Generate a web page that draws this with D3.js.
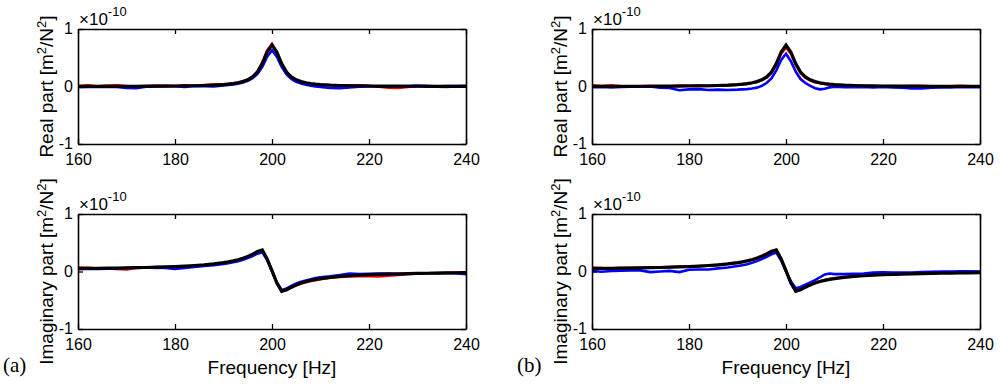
<!DOCTYPE html>
<html>
<head>
<meta charset="utf-8">
<script src="https://cdn.jsdelivr.net/npm/d3@7"></script>
<style>
  body { margin: 0; background: #fff; }
  text { font-family: "Liberation Sans", Arial, sans-serif; }
</style>
</head>
<body>
<div id="container"></div>
<script>
// frequency grid [Hz]
const freq = [160,162,164,166,168,170,172,174,176,178,180,182,184,186,188,
  190,191,192,193,194,195,196,197,198,199,200,201,202,203,204,205,206,207,208,209,210,
  212,214,216,218,220,222,224,226,228,230,232,234,236,238,240];

// model (black) curves, x 1e-10
const realModel = [0.002,0.002,0.003,0.003,0.003,0.004,0.004,0.005,0.006,0.007,
  0.009,0.011,0.013,0.017,0.023,0.033,0.041,0.051,0.065,0.085,
  0.117,0.167,0.252,0.40,0.60,0.72,0.60,0.40,0.252,0.167,
  0.117,0.085,0.065,0.051,0.041,0.033,0.023,0.017,0.013,0.011,
  0.009,0.007,0.006,0.005,0.004,0.004,0.003,0.003,0.003,0.002,0.002];
const imagModel = [0.051,0.053,0.055,0.057,0.060,0.063,0.066,0.070,0.075,0.080,
  0.086,0.094,0.104,0.116,0.132,0.154,0.168,0.184,0.205,0.231,
  0.263,0.303,0.347,0.375,0.22,0.015,-0.20,-0.345,-0.317,-0.273,
  -0.233,-0.201,-0.175,-0.154,-0.138,-0.124,-0.102,-0.086,-0.074,-0.064,
  -0.056,-0.050,-0.045,-0.040,-0.036,-0.033,-0.030,-0.027,-0.025,-0.023,-0.021];

// (a) estimates
const realRedA = [0.007,0.022,0.003,0.018,0.023,0.009,-0.001,0.005,0.016,0.012,
  0.009,0.021,0.013,0.027,0.038,0.038,0.045,0.055,0.068,0.09,
  0.12,0.172,0.262,0.42,0.63,0.74,0.59,0.385,0.235,0.15,
  0.10,0.07,0.05,0.038,0.03,0.028,0.023,0.022,0.023,0.021,
  0.014,-0.003,-0.019,-0.025,-0.006,0.004,0.008,-0.002,-0.007,0.002,0.002];
const realBlueA = [-0.013,-0.008,-0.002,-0.007,-0.007,-0.026,-0.031,-0.005,0.001,0.007,
  0.004,-0.009,0.008,0.007,0.003,0.02,0.028,0.037,0.05,0.07,
  0.1,0.145,0.22,0.34,0.52,0.63,0.52,0.34,0.21,0.13,
  0.08,0.05,0.03,0.015,0.0,-0.01,-0.025,-0.03,-0.015,-0.005,
  0.0,0.005,0.0,0.005,0.01,0.015,0.01,0.005,0.01,0.01,0.012];
const imagRedA = [0.07,0.065,0.05,0.055,0.045,0.035,0.06,0.07,0.06,0.07,
  0.08,0.09,0.095,0.11,0.125,0.145,0.16,0.175,0.195,0.22,
  0.25,0.29,0.335,0.365,0.21,0.01,-0.20,-0.34,-0.32,-0.28,
  -0.24,-0.21,-0.185,-0.165,-0.15,-0.135,-0.11,-0.095,-0.085,-0.08,
  -0.08,-0.085,-0.075,-0.06,-0.045,-0.035,-0.03,-0.03,-0.025,-0.02,-0.02];
const imagBlueA = [0.045,0.05,0.045,0.05,0.055,0.06,0.075,0.07,0.065,0.06,
  0.045,0.06,0.08,0.095,0.11,0.13,0.145,0.16,0.18,0.205,
  0.235,0.27,0.31,0.335,0.2,0.0,-0.19,-0.32,-0.295,-0.25,
  -0.21,-0.18,-0.155,-0.135,-0.115,-0.10,-0.085,-0.06,-0.035,-0.045,
  -0.04,-0.035,-0.035,-0.045,-0.04,-0.03,-0.03,-0.025,-0.025,-0.03,-0.045];

// (b) estimates
const realRedB = [0.02,0.01,0.02,0.005,0.0,0.005,0.01,0.005,0.005,0.015,
  0.015,0.015,0.01,0.015,0.02,0.03,0.035,0.045,0.06,0.08,
  0.11,0.155,0.235,0.38,0.57,0.68,0.57,0.38,0.235,0.155,
  0.105,0.075,0.055,0.042,0.033,0.026,0.015,0.015,0.012,0.005,
  0.005,0.008,0.005,0.01,0.012,0.005,0.0,0.005,0.012,0.005,0.005];
const realBlueB = [-0.01,-0.01,-0.015,-0.01,-0.005,-0.005,0.0,-0.02,-0.025,-0.065,
  -0.05,-0.045,-0.06,-0.055,-0.06,-0.055,-0.05,-0.045,-0.035,-0.02,
  0.01,0.06,0.14,0.28,0.46,0.57,0.44,0.26,0.13,0.06,
  0.01,-0.03,-0.05,-0.04,-0.015,-0.005,-0.01,-0.01,-0.01,-0.015,
  -0.01,-0.015,-0.02,-0.035,-0.035,-0.02,-0.015,-0.015,-0.01,-0.01,-0.01];
const imagRedB = [0.07,0.06,0.055,0.06,0.065,0.065,0.065,0.07,0.075,0.085,
  0.085,0.09,0.1,0.115,0.13,0.15,0.165,0.185,0.21,0.24,
  0.275,0.315,0.355,0.375,0.22,0.01,-0.19,-0.33,-0.305,-0.265,
  -0.225,-0.195,-0.17,-0.15,-0.132,-0.118,-0.095,-0.08,-0.07,-0.06,
  -0.05,-0.045,-0.04,-0.035,-0.03,-0.025,-0.02,-0.02,-0.015,-0.015,-0.01];
const imagBlueB = [0.01,-0.005,0.01,0.015,0.02,0.02,-0.01,0.0,0.01,-0.01,
  0.03,0.035,0.035,0.055,0.07,0.095,0.11,0.125,0.15,0.18,
  0.215,0.255,0.3,0.33,0.19,0.0,-0.17,-0.29,-0.27,-0.23,
  -0.19,-0.15,-0.1,-0.05,-0.035,-0.045,-0.045,-0.04,-0.035,-0.02,
  -0.015,-0.02,-0.02,-0.02,-0.01,-0.005,0.0,0.0,0.005,0.005,0.0];

const xTicks = [160,180,200,220,240];
const yTicks = [-1,0,1];

const W = 1000, H = 388;
const pw = 388, ph = 115;

const svg = d3.select('#container').append('svg')
  .attr('width', W).attr('height', H)
  .style('background', '#fff');

const panels = [
  {left: 78,  top: 29,  label: 'Real part',      red: realRedA,  blue: realBlueA,  black: realModel, freqLabel: false},
  {left: 78,  top: 214, label: 'Imaginary part', red: imagRedA,  blue: imagBlueA,  black: imagModel, freqLabel: true, tag: '(a)'},
  {left: 592, top: 29,  label: 'Real part',      red: realRedB,  blue: realBlueB,  black: realModel, freqLabel: false},
  {left: 592, top: 214, label: 'Imaginary part', red: imagRedB,  blue: imagBlueB,  black: imagModel, freqLabel: true, tag: '(b)'},
];

panels.forEach(p => {
  let g = svg.append('g').attr('transform', `translate(${p.left},${p.top})`);
  let x = d3.scaleLinear().domain([160, 240]).range([0, pw]);
  let y = d3.scaleLinear().domain([-1, 1]).range([ph, 0]);

  let line = d3.line().x((d, i) => x(freq[i])).y(d => y(d));

  g.append('defs').append('clipPath').attr('id', 'clip' + p.left + p.top)
    .append('rect').attr('width', pw).attr('height', ph);
  let plot = g.append('g').attr('clip-path', `url(#clip${p.left}${p.top})`);

  plot.append('path').datum(p.red).attr('d', line)
    .attr('fill', 'none').attr('stroke', '#ff0000').attr('stroke-width', 2.6);
  plot.append('path').datum(p.blue).attr('d', line)
    .attr('fill', 'none').attr('stroke', '#0000ff').attr('stroke-width', 2.6);
  plot.append('path').datum(p.black).attr('d', line)
    .attr('fill', 'none').attr('stroke', '#000').attr('stroke-width', 3.2);

  // axes, ticks inward
  let axB = g.append('g').attr('transform', `translate(0,${ph})`)
    .call(d3.axisBottom(x).tickValues(xTicks).tickSize(-5).tickPadding(10).tickSizeOuter(0));
  let axT = g.append('g')
    .call(d3.axisTop(x).tickValues(xTicks).tickSize(-5).tickFormat('').tickSizeOuter(0));
  let axL = g.append('g')
    .call(d3.axisLeft(y).tickValues(yTicks).tickSize(-5).tickPadding(5).tickSizeOuter(0).tickFormat(d => String(d)));
  let axR = g.append('g').attr('transform', `translate(${pw},0)`)
    .call(d3.axisRight(y).tickValues(yTicks).tickSize(-5).tickFormat('').tickSizeOuter(0));

  [axB, axT, axL, axR].forEach(a => {
    a.select('.domain').attr('stroke', '#000').attr('stroke-width', 1.6);
    a.selectAll('.tick line').attr('stroke', '#000').attr('stroke-width', 1.3);
    a.selectAll('.tick text').attr('fill', '#000').style('font-size', '16px')
      .style('font-family', '"Liberation Sans", Arial, sans-serif');
  });
  axL.selectAll('.tick text').attr('dy', '0.3em');

  // exponent
  let ex = g.append('text').attr('x', 1).attr('y', -4).attr('fill', '#000').style('font-size', '17px');
  ex.append('tspan').text('\u00d710');
  ex.append('tspan').attr('dy', -9).style('font-size', '13px').text('-10');

  // y label
  let yl = g.append('text')
    .attr('transform', `translate(-25,${ph / 2}) rotate(-90)`)
    .attr('text-anchor', 'middle').attr('fill', '#000').style('font-size', '19px');
  yl.append('tspan').text(p.label + ' [m');
  yl.append('tspan').attr('dy', -7).style('font-size', '13px').text('2');
  yl.append('tspan').attr('dy', 7).text('/N');
  yl.append('tspan').attr('dy', -7).style('font-size', '13px').text('2');
  yl.append('tspan').attr('dy', 7).text(']');

  if (p.freqLabel) {
    g.append('text').attr('x', pw / 2).attr('y', ph + 45)
      .attr('text-anchor', 'middle').attr('fill', '#000').style('font-size', '19px')
      .text('Frequency [Hz]');
    g.append('text').attr('x', -75).attr('y', ph + 43)
      .attr('fill', '#000').style('font-size', '21px')
      .style('font-family', '"Liberation Serif", "Times New Roman", serif')
      .text(p.tag);
  }
});
</script>
</body>
</html>
